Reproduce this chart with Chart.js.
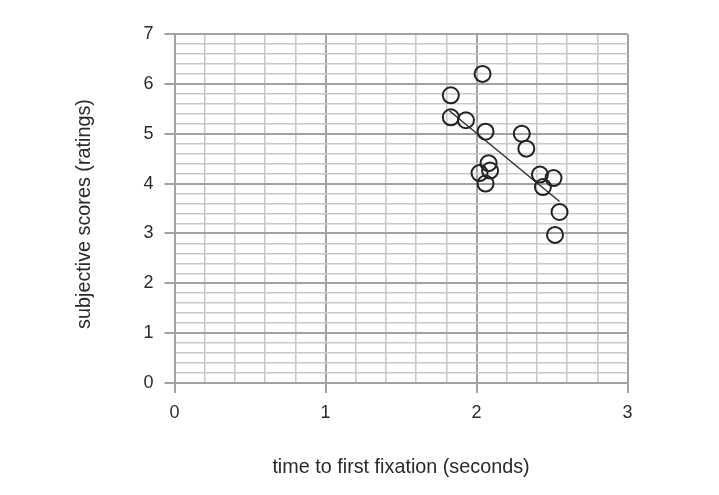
<!DOCTYPE html>
<html>
<head>
<meta charset="utf-8">
<script src="https://cdn.jsdelivr.net/npm/chart.js@4/dist/chart.umd.min.js"></script>
<style>
html,body{margin:0;padding:0;background:#fff;}
#wrap{width:719px;height:495px;position:relative;}
</style>
</head>
<body>
<div id="wrap"><canvas id="c" width="719" height="495"></canvas></div>
<script>
// time to first fixation (seconds)
const fixationTimes = [2.04, 1.83, 1.83, 1.93, 2.06, 2.30, 2.33, 2.08, 2.09, 2.02, 2.06, 2.42, 2.51, 2.44, 2.55, 2.52];
// subjective scores (ratings)
const subjectiveScores = [6.20, 5.77, 5.33, 5.27, 5.04, 5.00, 4.70, 4.41, 4.26, 4.21, 4.00, 4.18, 4.11, 3.93, 3.43, 2.97];
// linear trend line endpoints
const trendX = [1.82, 2.55];
const trendY = [5.46, 3.64];
const xTickLabels = ['0', '1', '2', '3'];
const yTickLabels = ['0', '1', '2', '3', '4', '5', '6', '7'];

const points = fixationTimes.map((x, i) => ({x, y: subjectiveScores[i]}));
const trend = trendX.map((x, i) => ({x, y: trendY[i]}));

const isMajor = v => Math.abs(v - Math.round(v)) < 1e-6;
const FONT = 'Liberation Sans, Arial, sans-serif';

new Chart(document.getElementById('c'), {
  type: 'scatter',
  data: {
    datasets: [
      {
        data: points,
        pointRadius: 8,
        pointHoverRadius: 8,
        pointBorderWidth: 2,
        pointBorderColor: '#222',
        pointBackgroundColor: 'rgba(0,0,0,0)',
        showLine: false,
        order: 1
      },
      {
        data: trend,
        showLine: true,
        borderColor: '#333',
        borderWidth: 1.5,
        pointRadius: 0,
        fill: false,
        order: 2
      }
    ]
  },
  options: {
    responsive: false,
    animation: false,
    events: [],
    layout: {padding: {left: 0, right: 91.5, top: 34, bottom: 0}},
    plugins: {legend: {display: false}, tooltip: {enabled: false}},
    scales: {
      x: {
        type: 'linear',
        min: 0, max: 3,
        afterFit: s => { s.height = 112; },
        ticks: {
          stepSize: 0.2,
          autoSkip: false,
          maxRotation: 0,
          padding: 9,
          color: '#2a2a2a',
          font: {family: FONT, size: 18},
          callback: v => isMajor(v) ? xTickLabels[Math.round(v)] : ''
        },
        grid: {
          color: ctx => isMajor(ctx.tick.value) ? '#a2a2a2' : '#c9c9c9',
          lineWidth: ctx => isMajor(ctx.tick.value) ? 2 : 1.6,
          tickColor: ctx => isMajor(ctx.tick.value) ? '#a2a2a2' : 'rgba(0,0,0,0)',
          tickLength: 10,
          drawTicks: true
        },
        border: {display: true, color: '#a2a2a2', width: 2},
        title: {
          display: true,
          text: 'time to first fixation (seconds)',
          color: '#2a2a2a',
          font: {family: FONT, size: 19.8},
          padding: {top: 0, bottom: 16}
        }
      },
      y: {
        type: 'linear',
        min: 0, max: 7,
        afterFit: s => { s.width = 174.5; },
        ticks: {
          stepSize: 0.2,
          autoSkip: false,
          padding: 11,
          color: '#2a2a2a',
          font: {family: FONT, size: 18},
          callback: v => isMajor(v) ? yTickLabels[Math.round(v)] : ''
        },
        grid: {
          color: ctx => isMajor(ctx.tick.value) ? '#a2a2a2' : '#c9c9c9',
          lineWidth: ctx => isMajor(ctx.tick.value) ? 2 : 1.6,
          tickColor: ctx => isMajor(ctx.tick.value) ? '#a2a2a2' : 'rgba(0,0,0,0)',
          tickLength: 10,
          drawTicks: true
        },
        border: {display: true, color: '#a2a2a2', width: 2},
        title: {
          display: true,
          text: 'subjective scores (ratings)  ',
          color: '#2a2a2a',
          font: {family: FONT, size: 19.8},
          padding: {top: 73, bottom: 0}
        }
      }
    }
  }
});
</script>
</body>
</html>
